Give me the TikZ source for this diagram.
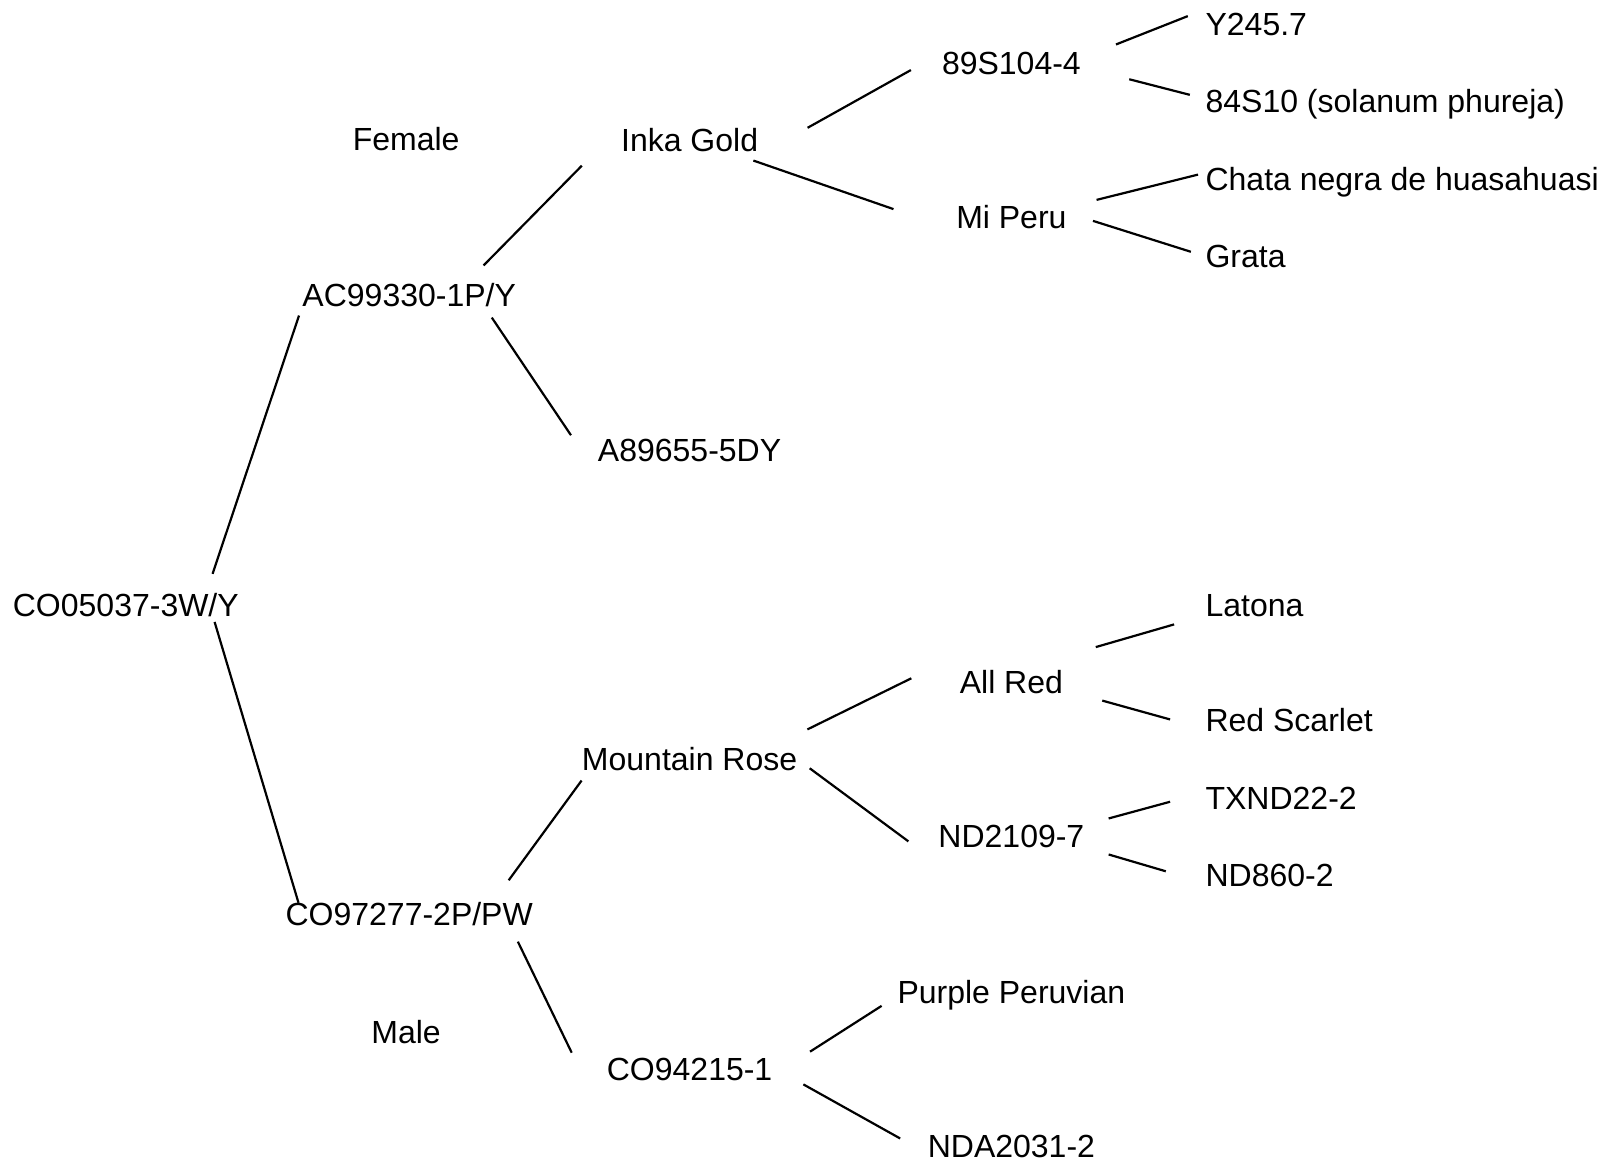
\documentclass[tikz,border=0pt]{standalone}
\usepackage{fontspec}
\setmainfont{Liberation Sans}
\begin{document}
\begin{tikzpicture}[x=0.5115pt,y=-0.5115pt,grow'=right,
  every node/.style={inner sep=0pt,text height=11.5pt,text depth=0pt,font=\fontsize{16pt}{19pt}\selectfont},
  edge from parent/.style={draw=none},
  level 1/.style={level distance=141.7pt,sibling distance=309.5pt},
  level 2/.style={level distance=140.2pt,sibling distance=155pt},
  level 3/.style={level distance=160.9pt,sibling distance=77.2pt},
  level 4/.style={level distance=96.9pt,sibling distance=38.6pt,every child node/.style={anchor=west}},
  link/.style={line width=1.1pt}]
\useasboundingbox (-123,-591) rectangle (1445,546);
\node (root) {CO05037-3W/Y}
child{node (ac) {AC99330-1P/Y}
	child{node (inka) {Inka Gold}
		child{node (s89) {89S104-4}
			child{node (y245) {Y245.7}}
			child{node (s84) {84S10 (solanum phureja)}}
		}
		child{node (miperu) {Mi Peru}
			child{node (chata) {Chata negra de huasahuasi}}
			child{node (grata) {Grata}}
		}
	}
	child{node (a89) {A89655-5DY}}
}
child{node (co97) {CO97277-2P/PW}
	child{node (mrose) {Mountain Rose}
		child{node (allred) {All Red}
			child{node[yshift=19.3pt] (latona) {Latona}}
			child{node (redsc) {Red Scarlet}}
		}
		child{node (nd2109) {ND2109-7}
			child{node (txnd) {TXND22-2}}
			child{node (nd860) {ND860-2}}
		}
	}
	child{node (co94) {CO94215-1}
		child{node (purple) {Purple Peruvian}}
		child{node (nda) {NDA2031-2}}
	}
};

\node (female) at (274,-455) {Female};
\node (male) at (274,418) {Male};

\foreach \a/\sa/\b/\sb in {root/{-26,-30}/ac/{-3,20}, root/{-24,17}/co97/{13,-11},
	ac/{-32,-29}/inka/{-38,25}, ac/{-24,22}/a89/{-26,-14.5},
	co97/{-24,-33}/mrose/{0,21}, co97/{-15,27}/co94/{-34,-16},
	inka/{48,-12}/s89/{-30,7}, inka/{-5,20}/miperu/{-61,-8},
	s89/{34,-18}/y245/{-17,-8}, s89/{47,16}/s84/{-15,-6.5},
	miperu/{29,-17}/chata/{-7,-4}, miperu/{25.5,3.5}/grata/{-14,-4},
	mrose/{9.6,-29}/allred/{-47,-3.5}, mrose/{11.8,9}/nd2109/{-29,5},
	allred/{31.7,-34}/latona/{-30.4,19.3}, allred/{38,18.3}/redsc/{-34.3,-1},
	nd2109/{23.4,-17.4}/txnd/{-34.3,4}, nd2109/{23.4,17.8}/nd860/{-38.5,-3.5},
	co94/{36.5,-17}/purple/{-15.2,13.7}, co94/{30,15}/nda/{-26.6,-7.6}}
	\draw[link] ([shift={(\sa)}]\a.east) -- ([shift={(\sb)}]\b.west);

\end{tikzpicture}
\end{document}
